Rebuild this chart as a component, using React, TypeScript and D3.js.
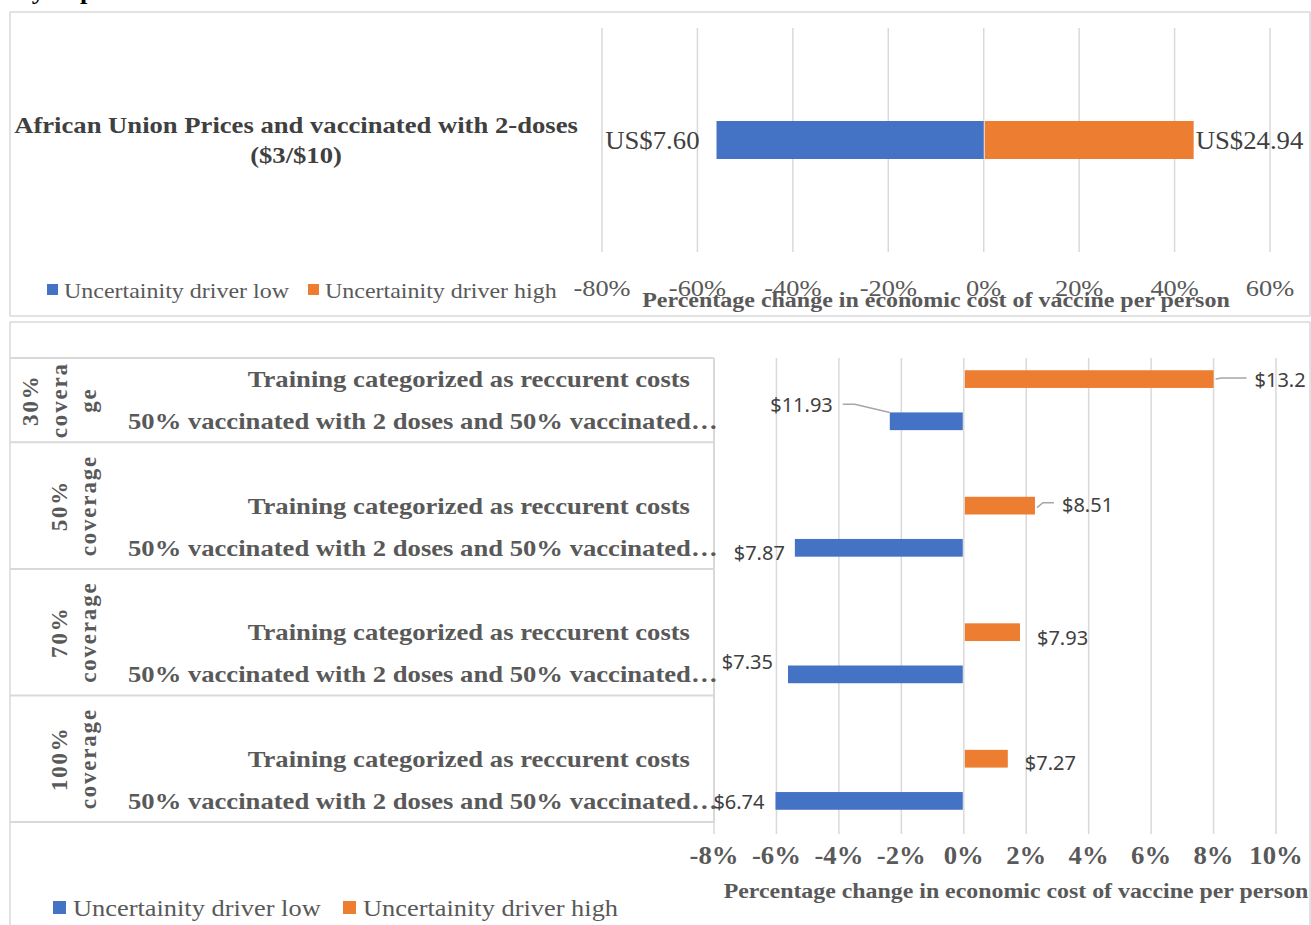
import React from 'react';
import * as d3 from 'd3';

// top chart
const topCategoryLines = ['African Union Prices and vaccinated with 2-doses', '($3/$10)'];
const topLowPct = -56;
const topHighPct = 44;
const topLowLabel = 'US$7.60';
const topHighLabel = 'US$24.94';
const topTicks = [-80, -60, -40, -20, 0, 20, 40, 60];

// bottom chart
const groupLines = [['30%', 'covera', 'ge'], ['50%', 'coverage'], ['70%', 'coverage'], ['100%', 'coverage']];
const subCategories = ['Training categorized as reccurent costs', '50% vaccinated with 2 doses and 50% vaccinated…'];
const highPct = [8.0, 2.28, 1.8, 1.41];
const lowPct = [-2.37, -5.41, -5.63, -6.03];
const highLabels = ['$13.2', '$8.51', '$7.93', '$7.27'];
const lowLabels = ['$11.93', '$7.87', '$7.35', '$6.74'];
const bottomTicks = [-8, -6, -4, -2, 0, 2, 4, 6, 8, 10];

const legendNames = ['Uncertainity driver low', 'Uncertainity driver high'];
const BLUE = '#4472C4';
const ORANGE = '#ED7D31';
const GRID = '#d9d9d9';
const SERIF = "'Liberation Serif', 'Times New Roman', serif";
const SANS = "'Noto Sans', 'Open Sans', sans-serif";

// label placement tweaks (like Excel's dragged labels)
const highLabelOffset = [{ dx: 41, dy: 1, lead: true }, { dx: 27, dy: -1, lead: true }, { dx: 17, dy: 6, lead: false }, { dx: 17, dy: 4, lead: false }];
const lowLabelOffset = [{ dx: -57, dy: -16, lead: true }, { dx: -10, dy: 5, lead: false }, { dx: -15, dy: -12, lead: false }, { dx: -11, dy: 1, lead: false }];

// serif text, a little wider like the source image
const ST = ({ x, y, sx = 1.1, anchor = 'start', size = 24, bold = false, fill = '#595959', children }: any) => (
  <text transform={`translate(${x},${y}) scale(${sx},1)`} textAnchor={anchor} fontFamily={SERIF}
    fontWeight={bold ? 'bold' : 'normal'} fontSize={size} fill={fill}>{children}</text>
);

export default function App() {
  const xTop = d3.scaleLinear().domain([-80, 60]).range([602, 1270]);
  const yTop = d3.scaleBand().domain(['AU']).range([28, 252]);
  const barTopH = 38;
  const cyTop = (yTop('AU') as number) + yTop.bandwidth() / 2;

  // slots: first group has no blank slot
  const slots: string[] = [];
  groupLines.forEach((_, g) => {
    if (g > 0) slots.push(`${g}-blank`);
    slots.push(`${g}-train`);
    slots.push(`${g}-dose`);
  });
  const xBot = d3.scaleLinear().domain([-8, 10]).range([714, 1276]);
  const yBot = d3.scaleBand().domain(slots).range([358, 822]);
  const bw = yBot.bandwidth();
  const barH = bw * 0.42;
  const center = (k: string) => (yBot(k) as number) + bw / 2;
  const groupTop = (g: number) => (yBot(g > 0 ? `${g}-blank` : `${g}-train`) as number);
  const groupBottom = (g: number) => (yBot(`${g}-dose`) as number) + bw;

  return (
    <svg width={1311} height={925} style={{ position: 'absolute', left: 0, top: 0, display: 'block', background: '#fff' }}>
      {/* cut-off title */}
      <ST x={-68} y={-1} bold fill="#000">sensitivity of parameter variations</ST>

      {/* panel 1 */}
      <rect x={10} y={12} width={1300} height={304} fill="#fff" stroke={GRID} strokeWidth={1.5} />
      {topTicks.map(t => (
        <line key={t} x1={xTop(t)} x2={xTop(t)} y1={28} y2={252} stroke={GRID} strokeWidth={1.5} />
      ))}
      <rect x={xTop(topLowPct)} y={cyTop - barTopH / 2} width={xTop(0) - xTop(topLowPct)} height={barTopH} fill={BLUE} />
      <rect x={xTop(0) + 1} y={cyTop - barTopH / 2} width={xTop(topHighPct) - xTop(0) - 1} height={barTopH} fill={ORANGE} />
      <ST x={xTop(topLowPct) - 17} y={cyTop + 9} anchor="end" size={25} sx={1.07} fill="#404040">{topLowLabel}</ST>
      <ST x={xTop(topHighPct) + 2} y={cyTop + 9} size={25} sx={1.07} fill="#404040">{topHighLabel}</ST>
      {topCategoryLines.map((l, i) => (
        <ST key={i} x={296} y={133 + i * 30} anchor="middle" bold size={24} sx={1.11} fill="#404040">{l}</ST>
      ))}
      {topTicks.map(t => (
        <ST key={t} x={xTop(t)} y={296} anchor="middle" size={24}>{`${t}%`}</ST>
      ))}
      <ST x={936} y={307} anchor="middle" bold size={22} sx={1.09}>
        Percentage change in economic cost of vaccine per person
      </ST>
      {legendNames.map((n, i) => (
        <g key={n} transform={`translate(${i === 0 ? 47 : 308},284)`}>
          <rect width={11} height={11} fill={i === 0 ? BLUE : ORANGE} />
          <ST x={17} y={14} size={22} sx={1.09}>{n}</ST>
        </g>
      ))}

      {/* panel 2 */}
      <rect x={10} y={322} width={1300} height={620} fill="#fff" stroke={GRID} strokeWidth={1.5} />
      {bottomTicks.map(t => (
        <line key={t} x1={xBot(t)} x2={xBot(t)} y1={358} y2={834} stroke={GRID} strokeWidth={1.5} />
      ))}
      {/* category table */}
      <line x1={10} x2={714} y1={358} y2={358} stroke={GRID} strokeWidth={2} />
      {groupLines.map((_, g) => (
        <line key={g} x1={10} x2={714} y1={groupBottom(g)} y2={groupBottom(g)} stroke={GRID} strokeWidth={2} />
      ))}
      <line x1={714} x2={714} y1={358} y2={822} stroke={GRID} strokeWidth={2} />
      {groupLines.map((lines, g) => {
        const cy = (groupTop(g) + groupBottom(g)) / 2;
        const n = lines.length;
        return lines.map((l, i) => {
          const bx = 96 - (n - 1 - i) * 29;
          return (
            <text key={`${g}-${i}`} transform={`translate(${bx},${cy}) rotate(-90)`} textAnchor="middle"
              fontFamily={SERIF} fontWeight="bold" fontSize={23} letterSpacing={1.8} fill="#595959">{l}</text>
          );
        });
      })}
      {groupLines.map((_, g) => (
        <g key={g}>
          <ST x={690} y={center(`${g}-train`) + 8} anchor="end" bold size={24} sx={1.11}>{subCategories[0]}</ST>
          <ST x={128} y={center(`${g}-dose`) + 8} bold size={24} sx={1.11}>{subCategories[1]}</ST>
        </g>
      ))}
      {/* bars */}
      {groupLines.map((_, g) => {
        const cyH = center(`${g}-train`);
        const cyL = center(`${g}-dose`);
        const hEnd = xBot(highPct[g]);
        const lStart = xBot(lowPct[g]);
        const ho = highLabelOffset[g];
        const lo = lowLabelOffset[g];
        return (
          <g key={g}>
            <rect x={xBot(0) + 1} y={cyH - barH / 2} width={hEnd - xBot(0) - 1} height={barH} fill={ORANGE} />
            <rect x={lStart} y={cyL - barH / 2} width={xBot(0) - lStart - 1} height={barH} fill={BLUE} />
            {ho.lead && (
              <polyline points={`${hEnd + 2},${cyH + (g === 0 ? 0 : 2)} ${hEnd + 8},${cyH + ho.dy - 2} ${hEnd + ho.dx - 8},${cyH + ho.dy - 2}`}
                fill="none" stroke="#a6a6a6" strokeWidth={1.5} />
            )}
            <text x={hEnd + ho.dx} y={cyH + ho.dy + 7} fontFamily={SANS} fontSize={20} fill="#404040">{highLabels[g]}</text>
            {lo.lead && (
              <polyline points={`${lStart},${cyL - barH / 2} ${lStart + lo.dx + 22},${cyL + lo.dy - 1} ${lStart + lo.dx + 10},${cyL + lo.dy - 1}`}
                fill="none" stroke="#a6a6a6" strokeWidth={1.5} />
            )}
            <text x={lStart + lo.dx} y={cyL + lo.dy + 7} textAnchor="end" fontFamily={SANS} fontSize={20} fill="#404040">{lowLabels[g]}</text>
          </g>
        );
      })}
      {bottomTicks.map(t => (
        <ST key={t} x={xBot(t)} y={864} anchor="middle" bold size={25} sx={1.07}>{`${t}%`}</ST>
      ))}
      <ST x={1016} y={898} anchor="middle" bold size={22} sx={1.085}>
        Percentage change in economic cost of vaccine per person
      </ST>
      {legendNames.map((n, i) => (
        <g key={n} transform={`translate(${i === 0 ? 53 : 343},901)`}>
          <rect width={13} height={13} fill={i === 0 ? BLUE : ORANGE} />
          <ST x={20} y={15} size={24} sx={1.1}>{n}</ST>
        </g>
      ))}
    </svg>
  );
}
